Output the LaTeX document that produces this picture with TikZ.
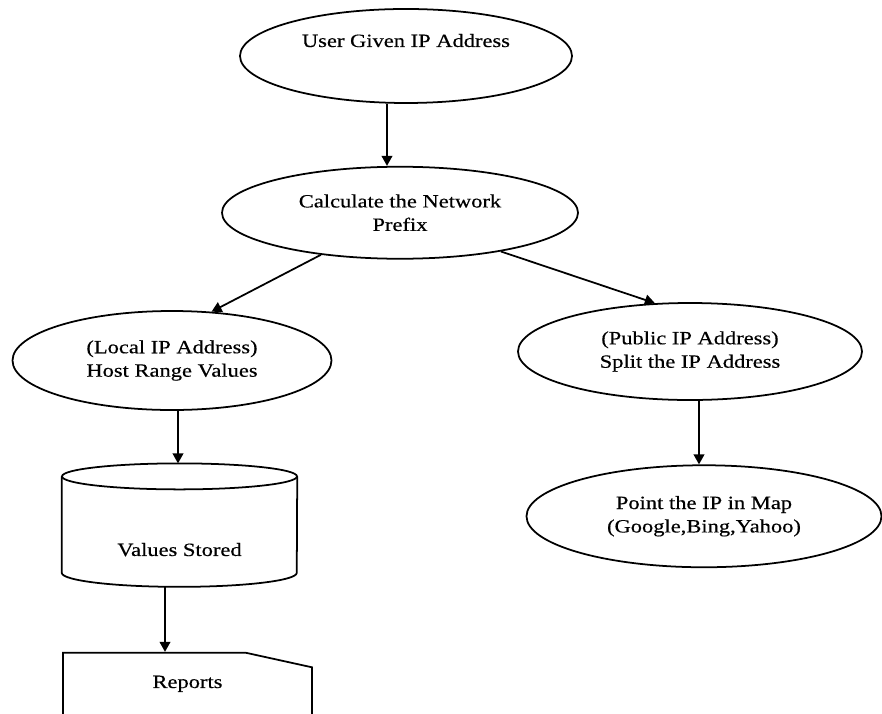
\documentclass[tikz,border=0pt]{standalone}
\usepackage{fontspec}
\setmainfont{Liberation Serif}[FakeStretch=1.2, FakeBold=0.4]
\usepackage{tikz}
\usetikzlibrary{shapes.geometric, shapes.misc, arrows.meta, positioning}

\begin{document}
\begin{tikzpicture}[
    node distance=1.5cm,
    font=\fontsize{16}{20}\selectfont,
    line/.style={line width=1.5pt},
    oval/.style={draw, ellipse, line, align=center},
    store/.style={minimum width=7.05cm, minimum height=3.69cm},
    report/.style={draw, chamfered rectangle, chamfered rectangle corners=north east, chamfered rectangle angle=77.6, chamfered rectangle xsep=1.5cm, line, minimum width=7.47cm, inner sep=0pt, text height=0.95cm, text depth=1.6cm},
    arrow/.style={-{Triangle[length=0.3cm, width=0.32cm]}, line}
]
    \useasboundingbox (0,0) rectangle (26.46,21.42);

    \node[oval, minimum width=9.96cm, minimum height=2.82cm, text height=0.45cm, text depth=0.99cm] (user) at (12.18,19.74) {User Given IP Address};
    \node[oval, minimum width=10.68cm, minimum height=2.76cm, below=1.86cm of user, xshift=-0.18cm] (calc) {Calculate the Network\\Prefix};
    \node[oval, minimum width=9.57cm, minimum height=2.97cm, below=1.515cm of calc, xshift=-6.84cm] (local) {(Local IP Address)\\Host Range Values};
    \node[oval, minimum width=10.32cm, minimum height=2.91cm, below=1.275cm of calc, xshift=8.7cm] (public) {(Public IP Address)\\Split the IP Address};
    \node[oval, minimum width=10.65cm, minimum height=3.06cm, below=1.905cm of public, xshift=0.42cm] (map) {Point the IP in Map\\(Google,Bing,Yahoo)};
    \node[store, below=1.575cm of local, xshift=0.225cm, label={[yshift=-0.735cm]center:Values Stored}] (values) {};
    \node[report, below=1.95cm of values, xshift=0.24cm] (reports) {Reports};

    % database drum
    \draw[line] ([yshift=-0.39cm]values.north) ellipse (3.525cm and 0.39cm);
    \draw[line] ([yshift=-0.39cm]values.north west) -- ([yshift=0.42cm]values.south west)
        arc (180:360:3.525cm and 0.42cm) -- ([yshift=-0.39cm]values.north east);

    \draw[arrow] ([xshift=-0.57cm]user.south) -- ([xshift=-0.39cm]calc.north);
    \draw[arrow] (calc.-152) -- (local.51);
    \draw[arrow] (calc.-21) -- (public.126);
    \draw[arrow] ([xshift=0.18cm]local.south) -- ([xshift=-0.045cm]values.north);
    \draw[arrow] ([xshift=0.27cm]public.south) -- ([xshift=-0.15cm]map.north);
    \draw[arrow] ([xshift=-0.435cm]values.south) -- ([xshift=-0.675cm]reports.north);
\end{tikzpicture}
\end{document}
